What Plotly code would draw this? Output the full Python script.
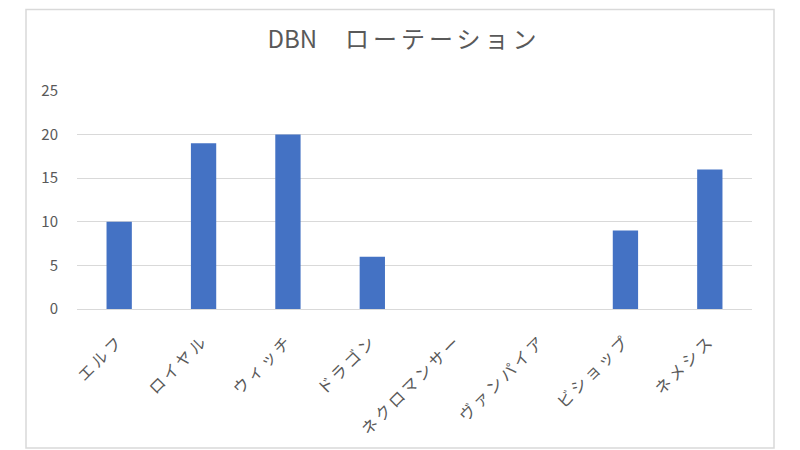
import plotly.graph_objects as go

classes = ['エルフ', 'ロイヤル', 'ウィッチ', 'ドラゴン', 'ネクロマンサー', 'ヴァンパイア', 'ビショップ', 'ネメシス']
counts = [10, 19, 20, 6, 0, 0, 9, 16]

font_jp = 'Noto Sans CJK JP'
gray_text = '#595959'

# page is drawn with an 8px body margin, so the figure is 8px smaller
W, H = 792, 442
OFF = 8


def spaced(s, px):
    # Excel's Japanese font runs wider than Noto, so widen the glyph spacing
    return '<span style="letter-spacing:%spx">%s</span>' % (px, s)


fig = go.Figure()
fig.add_trace(go.Bar(
    x=classes,
    y=counts,
    marker=dict(color='#4472c4', line=dict(width=0)),
))

fig.update_layout(
    width=W,
    height=H,
    margin=dict(l=77 - OFF, r=48, t=91 - OFF, b=141),
    paper_bgcolor='white',
    plot_bgcolor='white',
    bargap=0.7,
    showlegend=False,
    title=dict(
        text='DBN' + spaced('　ローテーション', 4),
        x=0.5,
        xanchor='center',
        y=1 - (40 - OFF) / H,
        yanchor='middle',
        font=dict(family=font_jp, size=24, color=gray_text),
    ),
    xaxis=dict(
        tickmode='array',
        tickvals=classes,
        ticktext=[spaced(c, 3) for c in classes],
        tickangle=-45,
        tickfont=dict(family=font_jp, size=16, color=gray_text),
        showgrid=False,
        showline=True,
        linecolor='#d9d9d9',
        ticks='',
        ticklabelstandoff=15,
    ),
    yaxis=dict(
        range=[0, 25],
        dtick=5,
        tickfont=dict(family=font_jp, size=15, color=gray_text),
        gridcolor='#d9d9d9',
        zeroline=False,
        ticks='',
        ticklabelstandoff=18,
    ),
    # chart-area border (top edge kept just inside the figure)
    shapes=[dict(
        type='rect', xref='paper', yref='paper',
        x0=(26 - 77) / 675, x1=(774 - 77) / 675,
        y0=(309 - 448) / 218, y1=(309 - 9.5) / 218,
        line=dict(color='#d9d9d9', width=1.5),
        fillcolor='rgba(0,0,0,0)',
        layer='below',
    )],
)

fig.write_html('out.html')
